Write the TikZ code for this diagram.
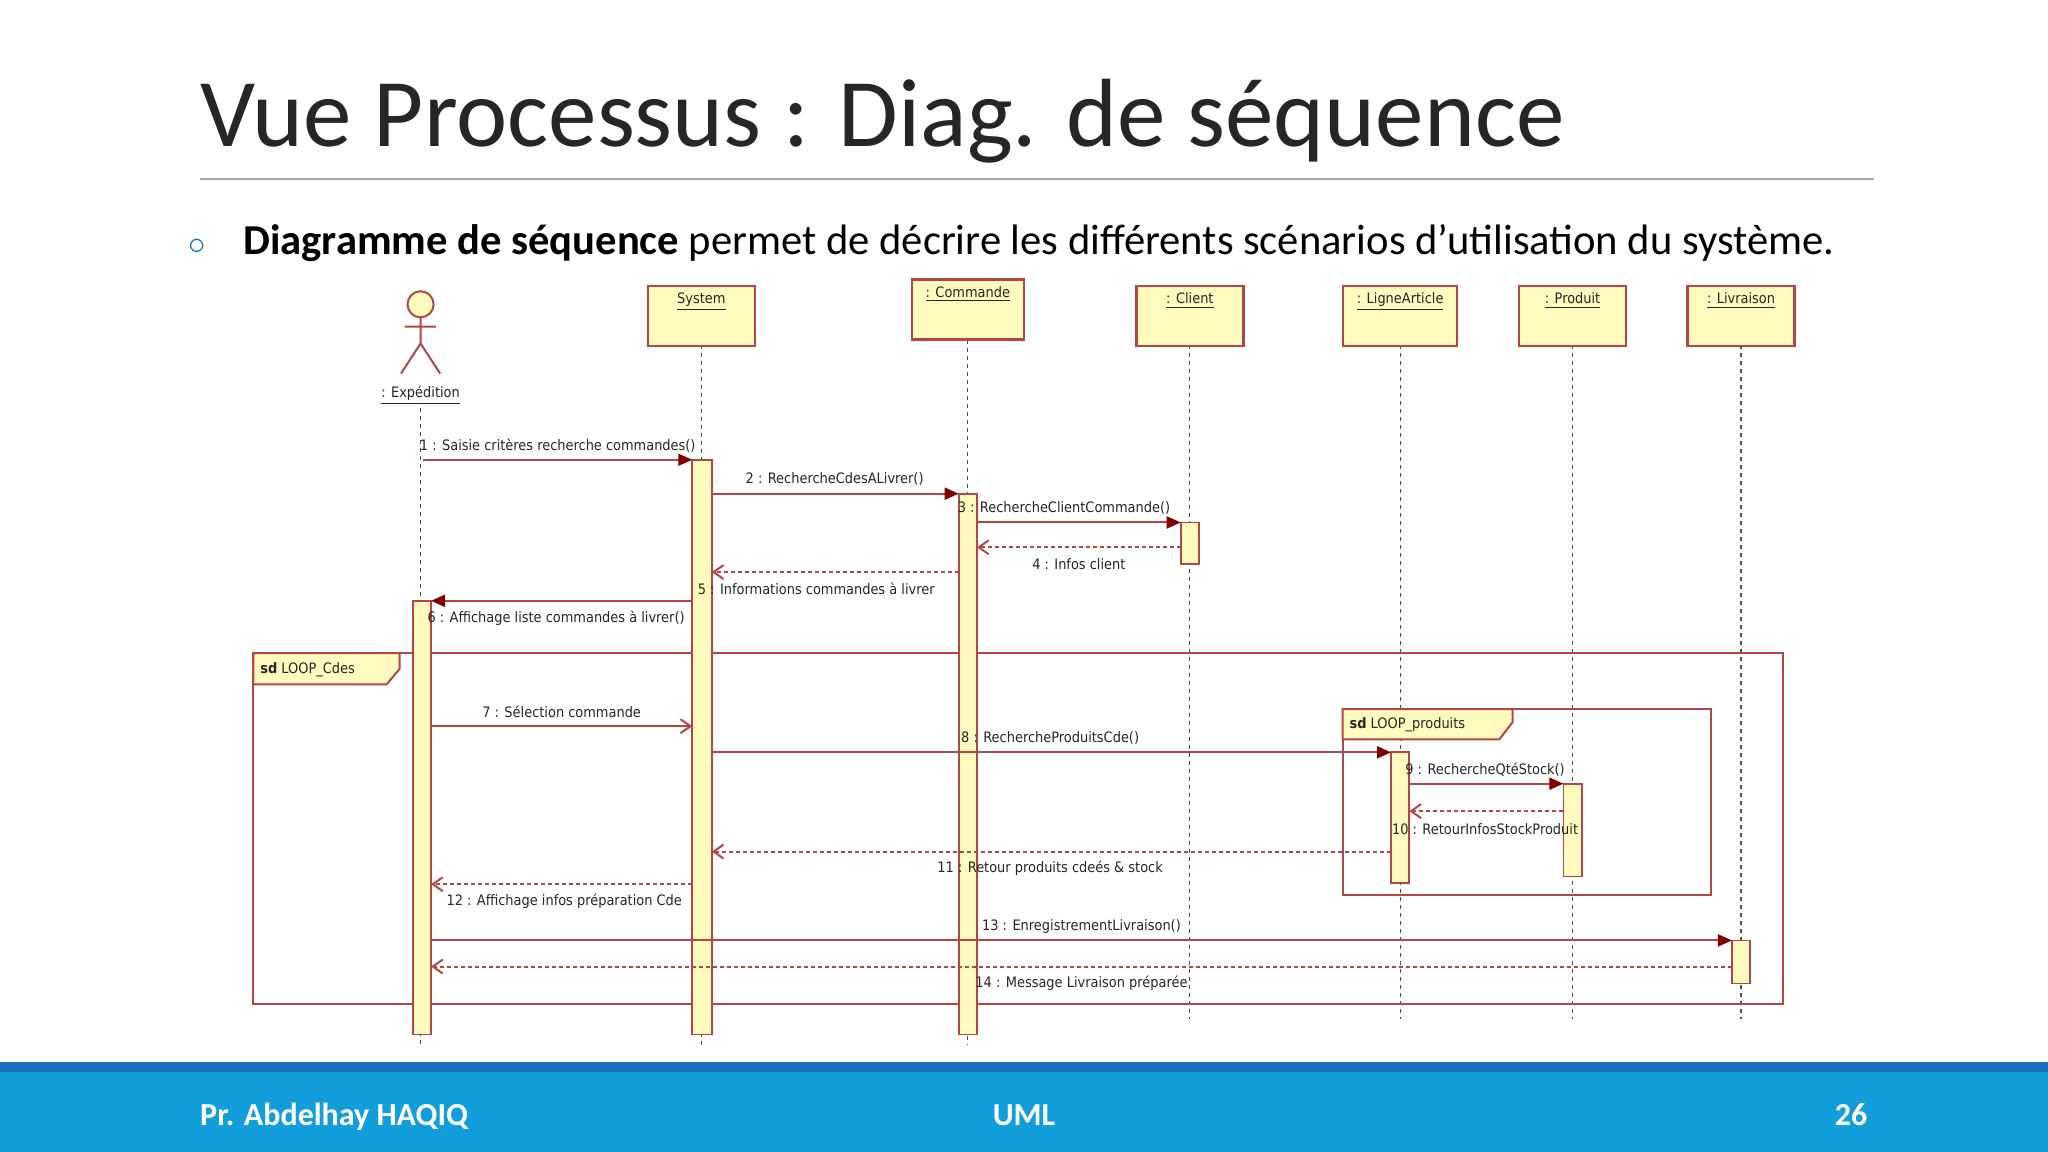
\documentclass[tikz,border=0pt]{standalone}
\usepackage{fontspec}
\setmainfont{Carlito}
\newfontfamily\umlf{DejaVu Sans Condensed}
\usetikzlibrary{arrows.meta}
\definecolor{ln}{RGB}{180,70,70}
\definecolor{tipc}{RGB}{128,0,0}
\definecolor{boxf}{RGB}{255,250,190}
\definecolor{foot}{RGB}{18,158,218}
\definecolor{foot2}{RGB}{30,110,190}
\definecolor{bull}{RGB}{30,110,190}
\tikzset{
 obj/.style={draw=ln,fill=boxf,line width=1.2pt,minimum width=53.5pt,minimum height=30pt,anchor=north,inner sep=0pt},
 bar/.style={draw=ln,fill=boxf,line width=0.9pt},
 life/.style={draw=black!70,dashed,dash pattern=on 2pt off 2pt,line width=0.6pt},
 msg/.style={draw=ln,line width=1pt,-{Triangle[length=7pt,width=6pt,fill=tipc,color=tipc]}},
 smsg/.style={draw=ln,line width=1pt,-{Straight Barb[length=5pt,width=7pt]}},
 rmsg/.style={draw=ln,line width=1pt,dash pattern=on 2pt off 1.5pt,-{Straight Barb[length=5pt,width=7pt]}},
 lab/.style={font=\umlf\fontsize{7.2}{8}\selectfont,text=black!85,inner sep=0pt},
 frm/.style={draw=ln,line width=1pt},
}
\begin{document}
\begin{tikzpicture}[x=0.653pt,y=-0.653pt]
\useasboundingbox (0,0) rectangle (1568,882);
\fill[white] (0,0) rectangle (1568,882);
% title
\node[anchor=base west,inner sep=0pt,font=\fontsize{48.5}{52}\selectfont,text=black!85] (title) at (153,112) {Vue Processus : Diag. de séquence};
\draw[black!35,line width=0.6pt] (153,137) -- (1435,137);
\node[anchor=base,inner sep=0pt,text=bull,font={\fontsize{16}{18}\selectfont}] (bul) at (151,195) {$\circ$};
\node[anchor=base west,inner sep=0pt,font=\fontsize{21.3}{24}\selectfont] (sub) at (186,195) {\textbf{Diagramme de séquence} permet de décrire les différents scénarios d’utilisation du système.};
% footer
\fill[foot] (0,818) rectangle (1568,882);
\fill[foot2] (0,813) rectangle (1568,821);
\node[anchor=base west,inner sep=0pt,text=white,font=\bfseries\fontsize{16}{18}\selectfont] (f1) at (153,862) {Pr. Abdelhay HAQIQ};
\node[anchor=base,inner sep=0pt,text=white,font=\bfseries\fontsize{16}{18}\selectfont] (f2) at (784,862) {UML};
\node[anchor=base east,inner sep=0pt,text=white,font=\bfseries\fontsize{16}{18}\selectfont] (f3) at (1430,862) {26};
% lifelines
\draw[life] (322,312) -- (322,800);
\draw[life] (537,264) -- (537,800);
\draw[life] (741,260) -- (741,800);
\draw[life] (911,264) -- (911,780);
\draw[life] (1072,264) -- (1072,780);
\draw[life] (1204,264) -- (1204,780);
\draw[life] (1333,264) -- (1333,780);
% objects
\node[obj] (sys) at (537,218) {};
\node[lab,anchor=north] at (537,224) {\underline{System}};
\node[obj,minimum width=56pt] (cmd) at (741,213) {};
\node[lab,anchor=north] at (741,219) {\underline{: Commande}};
\node[obj] (cli) at (911,218) {};
\node[lab,anchor=north] at (911,224) {\underline{: Client}};
\node[obj,minimum width=57pt] (lig) at (1072,218) {};
\node[lab,anchor=north] at (1072,224) {\underline{: LigneArticle}};
\node[obj] (pro) at (1204,218) {};
\node[lab,anchor=north] at (1204,224) {\underline{: Produit}};
\node[obj] (liv) at (1333,218) {};
\node[lab,anchor=north] at (1333,224) {\underline{: Livraison}};
% actor
\draw[ln,fill=boxf,line width=1pt] (322,233) circle (10);
\draw[ln,line width=1pt] (322,243) -- (322,263) (310,250) -- (334,250) (307,286) -- (322,263) -- (337,286);
\node[lab,anchor=north] (act) at (322,295) {\underline{: Expédition}};
% frames
\draw[frm] (194,500) rectangle (1365,769);
\draw[frm,fill=boxf] (194,500) -- (306,500) -- (306,512) -- (296,524) -- (194,524) -- cycle;
\node[lab,anchor=west] at (199,513) {\textbf{sd} LOOP\_Cdes};
\draw[frm] (1028,543) rectangle (1310,685);
\draw[frm,fill=boxf] (1028,543) -- (1158,543) -- (1158,553) -- (1148,566) -- (1028,566) -- cycle;
\node[lab,anchor=west] at (1033,555) {\textbf{sd} LOOP\_produits};
% activation bars
\draw[bar] (316,460) rectangle (330,792);
\draw[bar] (530,352) rectangle (545,792);
\draw[bar] (734,378) rectangle (748,792);
\draw[bar] (904,400) rectangle (918,432);
\draw[bar] (1065,576) rectangle (1079,676);
\draw[bar] (1197,600) rectangle (1211,671);
\draw[bar] (1326,720) rectangle (1340,753);
% messages
\draw[msg] (324,352) -- (530,352);
\node[lab] at (427,341) {1 : Saisie critères recherche commandes()};
\draw[msg] (545,378) -- (734,378);
\node[lab] at (639,367) {2 : RechercheCdesALivrer()};
\draw[msg] (748,400) -- (904,400);
\node[lab,anchor=west] at (733,389) {3 : RechercheClientCommande()};
\draw[rmsg] (904,419) -- (748,419);
\node[lab] at (826,432) {4 : Infos client};
\draw[rmsg] (734,438) -- (545,438);
\node[lab,anchor=west] at (534,451) {5 : Informations commandes à livrer};
\draw[msg] (530,460) -- (330,460);
\node[lab,anchor=west] at (327,473) {6 : Affichage liste commandes à livrer()};
\draw[smsg] (330,556) -- (530,556);
\node[lab] at (430,545) {7 : Sélection commande};
\draw[msg] (545,576) -- (1065,576);
\node[lab] at (804,565) {8 : RechercheProduitsCde()};
\draw[msg] (1079,600) -- (1197,600);
\node[lab] at (1137,589) {9 : RechercheQtéStock()};
\draw[rmsg] (1197,621) -- (1079,621);
\node[lab] at (1137,635) {10 : RetourInfosStockProduit};
\draw[rmsg] (1065,652) -- (545,652);
\node[lab] at (804,665) {11 : Retour produits cdeés \& stock};
\draw[rmsg] (530,677) -- (330,677);
\node[lab] at (432,690) {12 : Affichage infos préparation Cde};
\draw[msg] (330,720) -- (1326,720);
\node[lab] at (828,709) {13 : EnregistrementLivraison()};
\draw[rmsg] (1326,740) -- (330,740);
\node[lab] at (828,753) {14 : Message Livraison préparée};
\end{tikzpicture}
\end{document}
